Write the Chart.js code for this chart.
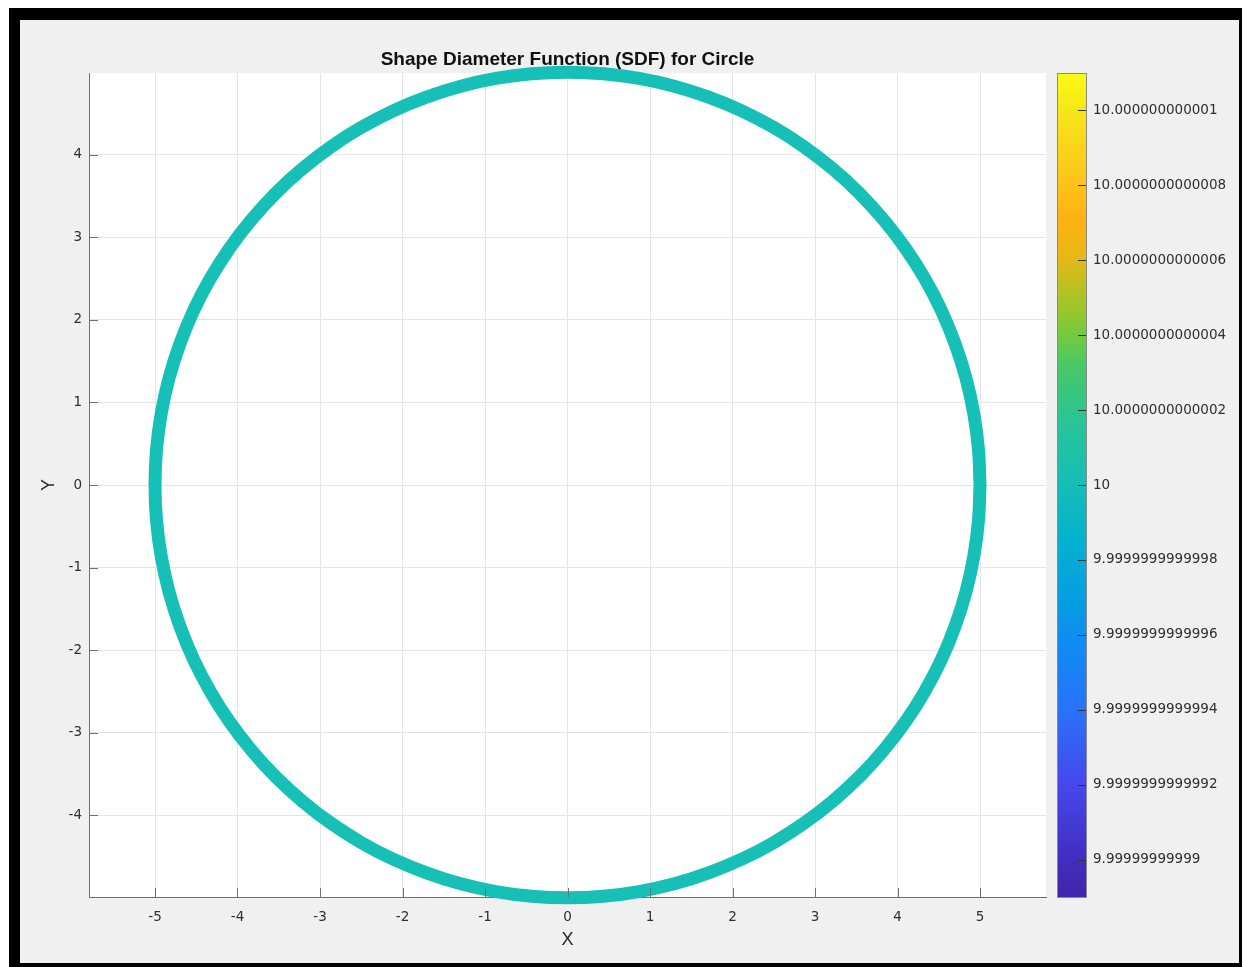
<!DOCTYPE html>
<html>
<head>
<meta charset="utf-8">
<title>Shape Diameter Function (SDF) for Circle</title>
<script src="https://cdn.jsdelivr.net/npm/chart.js@4/dist/chart.umd.min.js"></script>
<style>
  html, body { margin: 0; padding: 0; background: #ffffff; overflow: hidden; }
  canvas { display: block; }
</style>
</head>
<body>
<canvas id="sdf" width="1243" height="967"></canvas>
<script>
// Sample points on the circle (radius 5), every 5 degrees, closed back to the start.
const ringX = [
  5, 4.981, 4.924, 4.830, 4.698, 4.532, 4.330, 4.096, 3.830, 3.536, 3.214, 2.868, 2.5, 2.113, 1.710, 1.294, 0.868, 0.436, 0,
  -0.436, -0.868, -1.294, -1.710, -2.113, -2.5, -2.868, -3.214, -3.536, -3.830, -4.096, -4.330, -4.532, -4.698, -4.830, -4.924, -4.981, -5,
  -4.981, -4.924, -4.830, -4.698, -4.532, -4.330, -4.096, -3.830, -3.536, -3.214, -2.868, -2.5, -2.113, -1.710, -1.294, -0.868, -0.436, 0,
  0.436, 0.868, 1.294, 1.710, 2.113, 2.5, 2.868, 3.214, 3.536, 3.830, 4.096, 4.330, 4.532, 4.698, 4.830, 4.924, 4.981, 5
];
const ringY = [
  0, 0.436, 0.868, 1.294, 1.710, 2.113, 2.5, 2.868, 3.214, 3.536, 3.830, 4.096, 4.330, 4.532, 4.698, 4.830, 4.924, 4.981, 5,
  4.981, 4.924, 4.830, 4.698, 4.532, 4.330, 4.096, 3.830, 3.536, 3.214, 2.868, 2.5, 2.113, 1.710, 1.294, 0.868, 0.436, 0,
  -0.436, -0.868, -1.294, -1.710, -2.113, -2.5, -2.868, -3.214, -3.536, -3.830, -4.096, -4.330, -4.532, -4.698, -4.830, -4.924, -4.981, -5,
  -4.981, -4.924, -4.830, -4.698, -4.532, -4.330, -4.096, -3.830, -3.536, -3.214, -2.868, -2.5, -2.113, -1.710, -1.294, -0.868, -0.436, 0
];
// SDF value shared by every sample on the circle
const sdfValue = 10;

const xTickValues = [-5, -4, -3, -2, -1, 0, 1, 2, 3, 4, 5];
const yTickValues = [-4, -3, -2, -1, 0, 1, 2, 3, 4];

// Colorbar ticks, in units of 1e-13 offset from the SDF value
const cbTickValues = [-10, -8, -6, -4, -2, 0, 2, 4, 6, 8, 10];
const cbTickLabels = [
  '9.99999999999', '9.9999999999992', '9.9999999999994', '9.9999999999996', '9.9999999999998',
  '10',
  '10.0000000000002', '10.0000000000004', '10.0000000000006', '10.0000000000008', '10.000000000001'
];

const titleText = 'Shape Diameter Function (SDF) for Circle';

// parula-like colormap stops (fraction, rgb)
const parulaStops = [
  [0.000, 'rgb(62,38,168)'],
  [0.050, 'rgb(66,46,192)'],
  [0.140, 'rgb(70,72,238)'],
  [0.230, 'rgb(40,115,250)'],
  [0.315, 'rgb(14,142,240)'],
  [0.360, 'rgb(6,158,226)'],
  [0.435, 'rgb(2,178,206)'],
  [0.500, 'rgb(20,190,184)'],
  [0.580, 'rgb(42,196,150)'],
  [0.650, 'rgb(76,200,100)'],
  [0.685, 'rgb(120,202,60)'],
  [0.725, 'rgb(168,196,38)'],
  [0.775, 'rgb(228,184,24)'],
  [0.820, 'rgb(254,178,18)'],
  [0.865, 'rgb(254,194,26)'],
  [0.955, 'rgb(246,230,26)'],
  [1.000, 'rgb(249,251,21)']
];
const ringColor = 'rgb(22,192,182)';

const points = ringX.map((x, i) => ({ x: x, y: ringY[i], v: sdfValue }));

const tickFont = { family: '"DejaVu Sans", sans-serif', size: 13.5 };
const tickColor = '#2e2e2e';
const axisColor = '#6f6f6f';
const gridColor = '#e4e4e4';

// Figure frame, white axes background, title
const framePlugin = {
  id: 'frame',
  beforeDraw(chart) {
    const { ctx, chartArea } = chart;
    ctx.save();
    ctx.fillStyle = '#ffffff';
    ctx.fillRect(0, 0, chart.width, chart.height);
    ctx.fillStyle = '#000000';
    ctx.fillRect(9, 8, 1233, 959);
    ctx.fillStyle = '#f0f0f0';
    ctx.fillRect(20, 20, 1219, 943);
    ctx.fillStyle = '#ffffff';
    ctx.fillRect(chartArea.left, chartArea.top, chartArea.right - chartArea.left, chartArea.bottom - chartArea.top);
    ctx.restore();
  },
  afterDraw(chart) {
    const { ctx, chartArea } = chart;
    ctx.save();
    ctx.fillStyle = '#111111';
    ctx.font = 'bold 19px "Liberation Sans", Arial, sans-serif';
    ctx.textAlign = 'center';
    ctx.textBaseline = 'middle';
    ctx.fillText(titleText, (chartArea.left + chartArea.right) / 2, 60);
    ctx.restore();
  }
};

// Inward tick marks on the axes
const inwardTicksPlugin = {
  id: 'inwardTicks',
  afterDraw(chart) {
    const { ctx, chartArea, scales } = chart;
    ctx.save();
    ctx.strokeStyle = axisColor;
    ctx.lineWidth = 1;
    ctx.beginPath();
    xTickValues.forEach(v => {
      const px = Math.round(scales.x.getPixelForValue(v)) + 0.5;
      ctx.moveTo(px, chartArea.bottom);
      ctx.lineTo(px, chartArea.bottom - 9);
    });
    yTickValues.forEach(v => {
      const py = Math.round(scales.y.getPixelForValue(v)) + 0.5;
      ctx.moveTo(chartArea.left, py);
      ctx.lineTo(chartArea.left + 9, py);
    });
    ctx.stroke();
    ctx.restore();
  }
};

// Colorbar drawn against the 'cb' scale
const colorbarPlugin = {
  id: 'colorbar',
  afterDraw(chart) {
    const { ctx, chartArea, scales } = chart;
    const cb = scales.cb;
    const x0 = chartArea.right + 11;
    const w = 30;
    const top = cb.top;
    const bottom = cb.bottom + 1;
    ctx.save();
    const grad = ctx.createLinearGradient(0, bottom, 0, top);
    parulaStops.forEach(s => grad.addColorStop(s[0], s[1]));
    ctx.fillStyle = grad;
    ctx.fillRect(x0, top, w, bottom - top);
    ctx.strokeStyle = '#8a8a8a';
    ctx.lineWidth = 1;
    ctx.strokeRect(x0 + 0.5, top + 0.5, w - 1, bottom - top - 1);
    ctx.strokeStyle = '#333333';
    ctx.beginPath();
    cbTickValues.forEach(v => {
      const py = Math.round(cb.getPixelForValue(v)) + 0.5;
      ctx.moveTo(x0 + w - 9, py);
      ctx.lineTo(x0 + w - 1, py);
    });
    ctx.stroke();
    ctx.restore();
  }
};

new Chart(document.getElementById('sdf'), {
  type: 'scatter',
  data: {
    datasets: [{
      label: 'SDF',
      data: points,
      showLine: true,
      borderColor: ringColor,
      backgroundColor: ringColor,
      borderWidth: 13,
      borderJoinStyle: 'round',
      borderCapStyle: 'round',
      pointRadius: 0,
      tension: 0.4,
      fill: false,
      clip: false
    }]
  },
  options: {
    responsive: false,
    animation: false,
    events: [],
    elements: { line: { capBezierPoints: false } },
    layout: { padding: { top: 73, left: 0, right: 0, bottom: 0 } },
    plugins: {
      legend: { display: false },
      tooltip: { enabled: false },
      title: { display: false }
    },
    scales: {
      x: {
        type: 'linear',
        position: 'bottom',
        min: -5.8,
        max: 5.8,
        afterBuildTicks(scale) { scale.ticks = xTickValues.map(v => ({ value: v })); },
        afterFit(scale) { scale.height = 70; },
        grid: { color: gridColor, drawTicks: false, lineWidth: 1 },
        border: { color: axisColor, width: 1 },
        ticks: { font: tickFont, color: tickColor, padding: 12, maxRotation: 0 },
        title: {
          display: true,
          text: 'X',
          color: '#262626',
          font: { family: '"Liberation Sans", Arial, sans-serif', size: 18 },
          padding: { top: 0, bottom: 16 }
        }
      },
      y: {
        type: 'linear',
        position: 'left',
        min: -4.99,
        max: 4.99,
        afterBuildTicks(scale) { scale.ticks = yTickValues.map(v => ({ value: v })); },
        afterFit(scale) { scale.width = 89; },
        grid: { color: gridColor, drawTicks: false, lineWidth: 1 },
        border: { color: axisColor, width: 1 },
        ticks: { font: tickFont, color: tickColor, padding: 7 },
        title: {
          display: true,
          text: 'Y',
          color: '#262626',
          font: { family: '"Liberation Sans", Arial, sans-serif', size: 18 },
          padding: { top: 38, bottom: 0 }
        }
      },
      cb: {
        type: 'linear',
        axis: 'y',
        position: 'right',
        min: -11,
        max: 11,
        afterBuildTicks(scale) { scale.ticks = cbTickValues.map(v => ({ value: v })); },
        afterFit(scale) { scale.width = 197; },
        grid: { display: false, drawTicks: false },
        border: { display: false },
        ticks: {
          font: tickFont,
          color: tickColor,
          padding: 47,
          callback(value) {
            const i = cbTickValues.indexOf(value);
            return i >= 0 ? cbTickLabels[i] : '';
          }
        }
      }
    }
  },
  plugins: [framePlugin, inwardTicksPlugin, colorbarPlugin]
});
</script>
</body>
</html>
